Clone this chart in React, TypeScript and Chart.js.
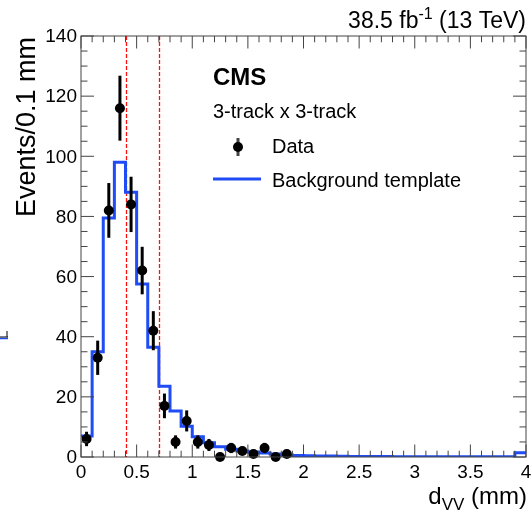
import React, { useEffect, useRef } from 'react';
import { Chart, registerables } from 'chart.js';

Chart.register(...registerables);

// Bin lower edges (0.1 mm bins from 0 to 4 mm)
const binLow = [
  0.0, 0.1, 0.2, 0.3, 0.4, 0.5, 0.6, 0.7, 0.8, 0.9,
  1.0, 1.1, 1.2, 1.3, 1.4, 1.5, 1.6, 1.7, 1.8, 1.9,
  2.0, 2.1, 2.2, 2.3, 2.4, 2.5, 2.6, 2.7, 2.8, 2.9,
  3.0, 3.1, 3.2, 3.3, 3.4, 3.5, 3.6, 3.7, 3.8, 3.9,
];
const xMaxEdge = 4.0;

// Background template (events / 0.1 mm)
const bgValues = [
  7, 35, 79.5, 98, 88, 57.5, 36.5, 23.5, 15.3, 10.2,
  6.7, 4.7, 3.4, 2.6, 2.0, 1.7, 1.3, 1.0, 0.7, 0.5,
  0.4, 0.35, 0.3, 0.25, 0.2, 0.2, 0.15, 0.15, 0.1, 0.1,
  0.1, 0.1, 0.1, 0.1, 0.1, 0.1, 0.1, 0.1, 0.1, 1.4,
];

// Data points (bin centres, counts, errors)
const dataX = [0.05, 0.15, 0.25, 0.35, 0.45, 0.55, 0.65, 0.75, 0.85, 0.95, 1.05, 1.15, 1.25, 1.35, 1.45, 1.55, 1.65, 1.75, 1.85];
const dataY = [6, 33, 82, 116, 84, 62, 42, 17, 5, 12, 5, 4, 0, 3, 2, 1, 3, 0, 1];
const dataErr = [2.4, 5.7, 9.1, 10.8, 9.2, 7.9, 6.5, 4.1, 2.2, 3.5, 2.2, 2.0, 0, 1.7, 1.4, 1.0, 1.7, 0, 1.0];

// Selection cut lines
const cutLines = [0.4, 0.7];

// Axis ticks
const xTickValues = [0, 0.5, 1, 1.5, 2, 2.5, 3, 3.5, 4];
const xTickLabels = ['0', '0.5', '1', '1.5', '2', '2.5', '3', '3.5', '4'];
const yTickValues = [0, 20, 40, 60, 80, 100, 120, 140];
const yTickLabels = ['0', '20', '40', '60', '80', '100', '120', '140'];

const FONT = "'Liberation Sans', Arial, Helvetica, sans-serif";
const BLUE = '#1f4cf5';

const rootPlugin = {
  id: 'rootStyle',
  beforeDatasetsDraw(chart: any) {
    const { ctx, chartArea: a, scales } = chart;
    const x = scales.x;
    ctx.save();
    ctx.strokeStyle = '#ff1010';
    ctx.lineWidth = 1.3;
    ctx.setLineDash([4, 2]);
    for (const v of cutLines) {
      const px = Math.round(x.getPixelForValue(v)) + 0.5;
      ctx.beginPath();
      ctx.moveTo(px, a.top);
      ctx.lineTo(px, a.bottom);
      ctx.stroke();
    }
    ctx.restore();
  },
  afterDatasetsDraw(chart: any) {
    const { ctx, chartArea: a, scales } = chart;
    const x = scales.x;
    const y = scales.y;
    ctx.save();

    // error bars
    ctx.strokeStyle = '#000';
    ctx.lineWidth = 3;
    for (let i = 0; i < dataX.length; i++) {
      if (dataErr[i] <= 0) continue;
      const px = x.getPixelForValue(dataX[i]);
      ctx.beginPath();
      ctx.moveTo(px, y.getPixelForValue(dataY[i] - dataErr[i]));
      ctx.lineTo(px, y.getPixelForValue(dataY[i] + dataErr[i]));
      ctx.stroke();
    }

    // frame
    ctx.strokeStyle = '#444';
    ctx.lineWidth = 1;
    ctx.strokeRect(a.left, a.top, a.right - a.left, a.bottom - a.top);

    // x ticks
    const xMajorLen = 12.5;
    const xMinorLen = 6.3;
    ctx.beginPath();
    for (let i = 0; i <= 40; i++) {
      const v = i / 10;
      const px = x.getPixelForValue(v);
      const len = i % 5 === 0 ? xMajorLen : xMinorLen;
      ctx.moveTo(px, a.bottom);
      ctx.lineTo(px, a.bottom - len);
      ctx.moveTo(px, a.top);
      ctx.lineTo(px, a.top + len);
    }
    // y ticks
    const yMajorLen = 13;
    const yMinorLen = 6.5;
    for (let i = 0; i <= 28; i++) {
      const v = i * 5;
      const py = y.getPixelForValue(v);
      const len = i % 4 === 0 ? yMajorLen : yMinorLen;
      ctx.moveTo(a.left, py);
      ctx.lineTo(a.left + len, py);
      ctx.moveTo(a.right, py);
      ctx.lineTo(a.right - len, py);
    }
    ctx.stroke();

    // tick labels
    ctx.fillStyle = '#000';
    ctx.font = `19px ${FONT}`;
    ctx.textAlign = 'center';
    ctx.textBaseline = 'alphabetic';
    xTickValues.forEach((v, i) => {
      ctx.fillText(xTickLabels[i], x.getPixelForValue(v), a.bottom + 21);
    });
    ctx.textAlign = 'right';
    ctx.textBaseline = 'middle';
    yTickValues.forEach((v, i) => {
      ctx.fillText(yTickLabels[i], a.left - 4, y.getPixelForValue(v) + 1);
    });

    // top-right lumi label
    ctx.textBaseline = 'alphabetic';
    ctx.textAlign = 'left';
    const mainFont = `23px ${FONT}`;
    const supFont = `16px ${FONT}`;
    const p1 = '38.5 fb';
    const p2 = '-1';
    const p3 = ' (13 TeV)';
    ctx.font = mainFont;
    const w1 = ctx.measureText(p1).width;
    const w3 = ctx.measureText(p3).width;
    ctx.font = supFont;
    const w2 = ctx.measureText(p2).width;
    const right = 526;
    let sx = right - (w1 + w2 + w3);
    const base = 28;
    ctx.font = mainFont;
    ctx.fillText(p1, sx, base);
    sx += w1;
    ctx.font = supFont;
    ctx.fillText(p2, sx, base - 9);
    sx += w2;
    ctx.font = mainFont;
    ctx.fillText(p3, sx, base);

    // x-axis title d_VV (mm)
    const tFont = `24px ${FONT}`;
    const subFont = `17px ${FONT}`;
    ctx.font = tFont;
    const dW = ctx.measureText('d').width;
    const mmW = ctx.measureText(' (mm)').width;
    ctx.font = subFont;
    const vvW = ctx.measureText('VV').width;
    let tx = 527 - (dW + vvW + mmW);
    const tb = 504;
    ctx.font = tFont;
    ctx.fillText('d', tx, tb);
    tx += dW;
    ctx.font = subFont;
    ctx.fillText('VV', tx, tb + 6);
    tx += vvW;
    ctx.font = tFont;
    ctx.fillText(' (mm)', tx, tb);

    // y-axis title
    ctx.save();
    ctx.translate(35, a.top + 1);
    ctx.rotate(-Math.PI / 2);
    ctx.font = `27px ${FONT}`;
    ctx.textAlign = 'right';
    ctx.textBaseline = 'alphabetic';
    ctx.fillText('Events/0.1 mm', 0, 0);
    ctx.restore();

    // CMS label and legend
    ctx.textAlign = 'left';
    ctx.font = `bold 24px ${FONT}`;
    ctx.fillText('CMS', 213, 85);
    ctx.font = `20px ${FONT}`;
    ctx.fillText('3-track x 3-track', 213, 118);
    ctx.fillText('Data', 272, 153);
    ctx.fillText('Background template', 272, 187);
    // legend data marker
    ctx.beginPath();
    ctx.lineWidth = 3;
    ctx.moveTo(238, 138);
    ctx.lineTo(238, 156);
    ctx.stroke();
    ctx.beginPath();
    ctx.arc(238, 147, 5, 0, Math.PI * 2);
    ctx.fill();
    // legend line
    ctx.strokeStyle = BLUE;
    ctx.lineWidth = 3;
    ctx.beginPath();
    ctx.moveTo(213, 179);
    ctx.lineTo(261, 179);
    ctx.stroke();

    // small cut-off mark at left edge
    ctx.lineWidth = 1.5;
    ctx.strokeStyle = BLUE;
    ctx.beginPath();
    ctx.moveTo(0, 338.5);
    ctx.lineTo(8, 338.5);
    ctx.stroke();
    ctx.strokeStyle = '#000';
    ctx.lineWidth = 1;
    ctx.beginPath();
    ctx.moveTo(0, 337);
    ctx.lineTo(8, 337);
    ctx.moveTo(7, 331);
    ctx.lineTo(7, 337);
    ctx.stroke();

    ctx.restore();
  },
};

export default function App() {
  const ref = useRef<HTMLCanvasElement | null>(null);
  useEffect(() => {
    if (!ref.current) return;
    const bgPoints = binLow.map((lo, i) => ({ x: lo, y: bgValues[i] }));
    bgPoints.push({ x: xMaxEdge, y: bgValues[bgValues.length - 1] });
    const dataPoints = dataX.map((v, i) => ({ x: v, y: dataY[i] }));
    const chart = new Chart(ref.current, {
      type: 'scatter',
      data: {
        datasets: [
          {
            type: 'scatter',
            label: 'Data',
            data: dataPoints,
            pointRadius: 5,
            pointHoverRadius: 5,
            backgroundColor: '#000',
            borderColor: '#000',
            borderWidth: 0,
            clip: false,
          } as any,
          {
            type: 'line',
            label: 'Background template',
            data: bgPoints,
            stepped: 'before',
            borderColor: BLUE,
            borderWidth: 3,
            pointRadius: 0,
            fill: false,
          } as any,
        ],
      },
      options: {
        responsive: false,
        animation: false,
        devicePixelRatio: 1,
        layout: { padding: { left: 81, right: 2, top: 36, bottom: 56 } },
        plugins: { legend: { display: false }, tooltip: { enabled: false } },
        events: [],
        scales: {
          x: { type: 'linear', min: 0, max: 4, display: false },
          y: { type: 'linear', min: 0, max: 140, display: false },
        },
      },
      plugins: [rootPlugin],
    });
    return () => chart.destroy();
  }, []);
  return (
    <div style={{ position: 'fixed', left: 0, top: 0, width: 531, height: 513, background: '#fff' }}>
      <canvas ref={ref} width={531} height={513} style={{ display: 'block' }} />
    </div>
  );
}
